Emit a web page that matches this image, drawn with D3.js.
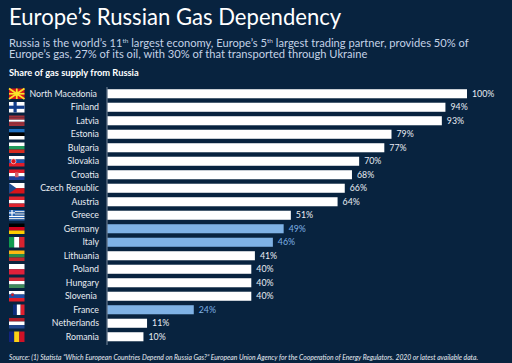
<!DOCTYPE html>
<html><head><meta charset="utf-8">
<script src="https://cdnjs.cloudflare.com/ajax/libs/d3/7.8.5/d3.min.js"></script>
<style>html,body{margin:0;padding:0;background:#08233f}svg{display:block}text{font-family:Lato,"Open Sans",sans-serif}</style>
</head><body><svg id="c" width="512" height="363"></svg>
<script>
const countries=["North Macedonia","Finland","Latvia","Estonia","Bulgaria","Slovakia","Croatia","Czech Republic","Austria","Greece","Germany","Italy","Lithuania","Poland","Hungary","Slovenia","France","Netherlands","Romania"];
const shares=[100,94,93,79,77,70,68,66,64,51,49,46,41,40,40,40,24,11,10];
const highlighted=["Germany","Italy","France"];
const hStripes={Latvia:["#9e3039","#9e3039","#fff","#9e3039","#9e3039"],Estonia:["#1f6fc0","#000","#fff"],Bulgaria:["#fff","#1e9a5b","#d62b1f"],Slovakia:["#fff","#1f4fa8","#e11d2a"],Croatia:["#e11d2a","#fff","#213f9a"],Austria:["#e0242f","#fff","#e0242f"],Germany:["#000","#d0021b","#fdce00"],Lithuania:["#fdb913","#2a8a4a","#c1272d"],Poland:["#fff","#e0203a"],Hungary:["#ce2939","#fff","#3f8a5a"],Slovenia:["#fff","#1f4fa8","#e11d2a"],Netherlands:["#ae1c28","#fff","#21468b"]};
const vStripes={Italy:["#109a4f","#fff","#d8232f"],France:["#0d2c7e","#fff","#e0202f"],Romania:["#12247f","#fcd116","#ce1126"]};
const svg=d3.select("#c");
svg.append("rect").attr("width",512).attr("height",363).attr("fill","#08233f");
svg.append("text").attr("x",9).attr("y",25).attr("fill","#fff").attr("font-size",22.1).text("Europe’s Russian Gas Dependency");
const sub=[["Russia is the world’s 11","th"," largest economy, Europe’s 5","th"," largest trading partner, provides 50% of"],["Europe’s gas, 27% of its oil, with 30% of that transported through Ukraine"]];
sub.forEach((parts,i)=>{const t=svg.append("text").attr("x",9).attr("y",46.5+i*11.5).attr("fill","#c4d2e6").attr("font-size",11.15);
 parts.forEach(p=>{const s=t.append("tspan").text(p);if(p==="th")s.attr("font-size",6.5).attr("dy",-3.5);else if(parts.indexOf(p)>0)s.attr("dy",3.5);});});
svg.append("text").attr("x",9).attr("y",75.5).attr("fill","#fff").attr("font-size",9.3).attr("font-weight",700).text("Share of gas supply from Russia");
const x=d3.scaleLinear().domain([0,100]).range([107.5,467]);
const y=d3.scaleBand().domain(countries).range([87,343.5]).paddingInner(0.33).paddingOuter(0.165);
const rows=svg.selectAll("g.r").data(countries).join("g").attr("class","r");
rows.append("rect").attr("x",x(0)).attr("y",d=>y(d)).attr("height",y.bandwidth()).attr("width",(d,i)=>x(shares[i])-x(0)).attr("fill",d=>highlighted.includes(d)?"#7fb2e5":"#fff");
rows.append("text").attr("x",(d,i)=>x(shares[i])+5).attr("y",d=>y(d)+y.bandwidth()/2+3).attr("font-size",8.8).attr("fill",d=>highlighted.includes(d)?"#7fb2e5":"#e8edf3").text((d,i)=>shares[i]+"%");
rows.append("text").attr("x",d=>d==="North Macedonia"?97:d==="Slovenia"?97:99).attr("y",d=>y(d)+y.bandwidth()/2+3).attr("text-anchor","end").attr("font-size",8.8).attr("fill","#e8edf3").text(d=>d);
svg.append("line").attr("x1",107).attr("x2",107).attr("y1",87).attr("y2",345).attr("stroke","#c8d2de").attr("stroke-width",.6);
// flags
const fx=9,fw=15.5,fh=10.5;
countries.forEach(c=>{const cy=y(c)+y.bandwidth()/2,fy=cy-fh/2,g=svg.append("g");
 const rect=(a,b,w,h,f)=>g.append("rect").attr("x",fx+a).attr("y",fy+b).attr("width",w).attr("height",h).attr("fill",f);
 if(hStripes[c]){const s=hStripes[c];s.forEach((f,i)=>rect(0,i*fh/s.length,fw,fh/s.length,f));}
 else if(vStripes[c]){const s=vStripes[c],o=c==="France"?4:0,w=(fw-o)/3;s.forEach((f,i)=>rect(o+i*w,0,w,fh,f));}
 else if(c==="North Macedonia"){rect(0,0,fw,fh,"#d8141a");[[0,0,fw,fh],[0,fh,fw,0],[fw/2,0,fw/2,fh],[0,fh/2,fw,fh/2]].forEach(l=>g.append("line").attr("x1",fx+l[0]).attr("y1",fy+l[1]).attr("x2",fx+l[2]).attr("y2",fy+l[3]).attr("stroke","#f8e42a").attr("stroke-width",1.7));g.append("circle").attr("cx",fx+fw/2).attr("cy",cy).attr("r",2.2).attr("fill","#f8e42a");}
 else if(c==="Finland"){rect(0,0,fw,fh,"#fff");rect(0,fh/2-1.6,fw,3.2,"#123d8a");rect(4.5,0,3.2,fh,"#123d8a");}
 else if(c==="Czech Republic"){rect(0,0,fw,fh/2,"#fff");rect(0,fh/2,fw,fh/2,"#d8141a");g.append("path").attr("d",`M${fx},${fy}L${fx+7.5},${cy}L${fx},${fy+fh}Z`).attr("fill","#1c4a8c");}
 else if(c==="Greece"){[0,1,2,3,4,5,6,7,8].forEach(i=>rect(0,i*fh/9,fw,fh/9,i%2?"#fff":"#2a66b5"));rect(0,0,6,5.8,"#2a66b5");rect(2.4,0,1.2,5.8,"#fff");rect(0,2.3,6,1.2,"#fff");}
 if(c==="Slovakia")g.append("circle").attr("cx",fx+4.5).attr("cy",cy).attr("r",2.5).attr("fill","#d8141a").attr("stroke","#fff").attr("stroke-width",.6);
 if(c==="Slovenia")g.append("circle").attr("cx",fx+3.5).attr("cy",cy-1.5).attr("r",1.6).attr("fill","#d8141a").attr("stroke","#1f4fa8").attr("stroke-width",.5);
 if(c==="Croatia")g.append("rect").attr("x",fx+6).attr("y",cy-2.5).attr("width",3.5).attr("height",5).attr("fill","#d8606a");
});
svg.append("text").attr("x",9).attr("y",360).attr("fill","#e8edf3").attr("font-size",6.75).attr("font-style","italic").text("Source:  (1)  Statista “Which European Countries Depend on Russia Gas?” European Union Agency for the Cooperation of Energy Regulators. 2020 or latest available data.");
</script></body></html>
